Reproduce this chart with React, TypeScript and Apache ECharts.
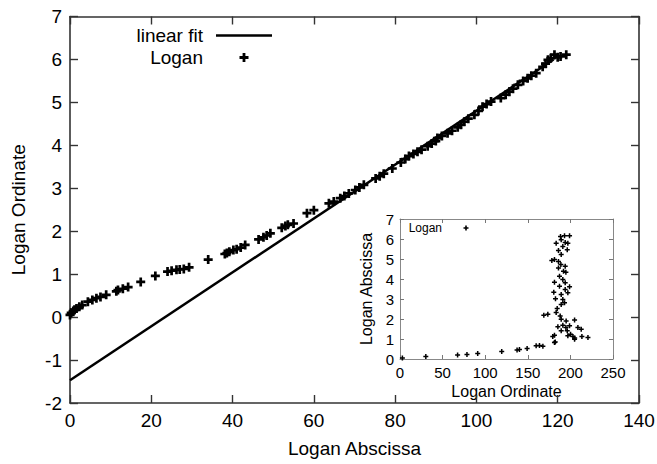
import React, { useEffect, useRef } from "react";
import * as echarts from "echarts";

// Main chart: Logan plot points
const loganX = [0, 0.3, 0.8, 1.1, 1.6, 2.3, 3.0, 4.4, 5.5, 6.5, 7.5, 8.9, 11.4, 11.8, 13.0, 14.3, 17.4, 21.0, 24.0, 25.0, 26.2, 27.0, 28.0, 29.3, 34.0, 38.1, 38.6, 39.2, 40.2, 41.0, 42.0, 43.1, 46.4, 47.6, 48.4, 49.3, 52.1, 53.0, 53.6, 55.0, 58.3, 60.0, 63.7, 64.9, 66.5, 67.5, 68.6, 70.2, 71.2, 72.3, 75.2, 76.2, 77.2, 79.3, 81.4, 82.5, 83.4, 84.5, 85.5, 86.5, 88.0, 89.0, 90.0, 90.4, 91.5, 92.9, 94.0, 95.4, 96.2, 97.0, 98.0, 99.5, 100.5, 101.5, 102.5, 103.6, 106.0, 107.2, 108.1, 109.0, 110.2, 111.5, 112.6, 113.5, 114.7, 116.3, 117.0, 117.6, 118.3, 119.2, 120.0, 120.7, 122.1];
const loganY = [0.05, 0.10, 0.14, 0.17, 0.20, 0.24, 0.28, 0.36, 0.40, 0.44, 0.47, 0.52, 0.60, 0.63, 0.66, 0.70, 0.82, 0.96, 1.06, 1.08, 1.10, 1.11, 1.12, 1.16, 1.34, 1.47, 1.49, 1.52, 1.56, 1.58, 1.62, 1.68, 1.81, 1.86, 1.90, 1.95, 2.08, 2.12, 2.15, 2.18, 2.42, 2.49, 2.65, 2.69, 2.77, 2.82, 2.88, 2.96, 3.02, 3.08, 3.23, 3.28, 3.34, 3.46, 3.60, 3.68, 3.75, 3.80, 3.85, 3.90, 3.98, 4.04, 4.10, 4.17, 4.22, 4.28, 4.34, 4.42, 4.48, 4.55, 4.62, 4.71, 4.80, 4.90, 4.96, 5.02, 5.10, 5.18, 5.25, 5.32, 5.41, 5.50, 5.56, 5.62, 5.68, 5.83, 5.90, 5.99, 6.03, 6.11, 6.05, 6.07, 6.11];

// Linear fit endpoints
const fitX = [0, 119];
const fitY = [-1.47, 6.0];

// Inset: Logan Ordinate vs Logan Abscissa
const insetX = [2.8, 30.3, 67.6, 78.6, 91.2, 119.4, 137.4, 140.2, 149.2, 159.8, 163.7, 167.7, 182.2, 181.3, 179.3, 181.3, 205.0,
  188.4, 193.1, 199.0, 189.2, 193.9, 197.0, 191.1, 196.3, 183.3, 186.0, 189.2, 181.3, 178.2, 186.0, 188.8, 193.9, 186.0, 191.9, 194.7,
  187.2, 191.1, 181.3, 193.9, 187.2, 199.0, 193.9, 180.5, 189.2, 197.0, 182.5, 191.1, 193.1, 189.2, 184.5, 183.3, 188.0, 168.8, 173.5,
  189.2, 195.0, 204.9, 191.1, 194.7, 199.0, 196.3, 208.8, 212.7, 200.2, 203.0, 204.9, 220.6, 213.5, 197.0, 189.2, 185.3];
const insetY = [0.05, 0.13, 0.20, 0.23, 0.27, 0.37, 0.45, 0.47, 0.52, 0.66, 0.68, 0.64, 0.85, 1.19, 1.13, 0.83, 1.05,
  6.13, 6.16, 6.16, 5.96, 5.83, 5.79, 5.63, 5.46, 5.79, 5.43, 5.22, 4.97, 4.93, 4.88, 4.72, 4.64, 4.55, 4.39, 4.34,
  4.14, 3.97, 3.84, 3.81, 3.64, 3.61, 3.48, 3.34, 3.23, 3.31, 3.01, 2.98, 2.81, 2.73, 2.52, 2.32, 2.15, 2.19, 2.24,
  1.99, 1.90, 1.95, 1.69, 1.57, 1.66, 1.41, 1.57, 1.49, 1.24, 1.13, 0.99, 1.08, 1.13, 1.16, 1.41, 1.61];

const mainXTicks = { min: 0, max: 140, interval: 20 };
const mainYTicks = { min: -2, max: 7, interval: 1 };
const insetXTicks = { min: 0, max: 250, interval: 50 };
const insetYTicks = { min: 0, max: 7, interval: 1 };

const PLUS = "path://M3.5,0H6.5V3.5H10V6.5H6.5V10H3.5V6.5H0V3.5H3.5Z";
const LEGEND_LINE = "path://M0,0L0.001,0ZM0,10L0.001,10ZM0,3.75H56V6.25H0Z";
const LEGEND_PLUS = "path://M0,5L0.001,5ZM56,5L55.999,5ZM26.6,0.5H29.4V3.6H32.5V6.4H29.4V9.5H26.6V6.4H23.5V3.6H26.6Z";
const INSET_LEGEND_PLUS = "path://M0,5L0.001,5ZM36,5L35.999,5ZM17.2,2.5H18.8V4.2H20.5V5.8H18.8V7.5H17.2V5.8H15.5V4.2H17.2Z";

const FONT = "Liberation Sans, Arial, Helvetica, sans-serif";

export default function App() {
  const ref = useRef<HTMLDivElement>(null);
  useEffect(() => {
    if (!ref.current) return;
    document.body.style.margin = "0";
    const chart = echarts.init(ref.current, undefined, { renderer: "svg" });
    const mainLine = { show: true, onZero: false, lineStyle: { color: "#333", width: 1.6 } };
    const insetLine = { show: true, onZero: false, lineStyle: { color: "#888", width: 1 } };
    const mainTick = { show: true, inside: true, length: 8, lineStyle: { color: "#333", width: 1.4 } };
    const insetTick = { show: true, inside: true, length: 4, lineStyle: { color: "#777", width: 1 } };
    const mainLabel = { color: "#000", fontSize: 19, fontFamily: FONT, margin: 8 };
    const insetLabel = { color: "#000", fontSize: 15, fontFamily: FONT, margin: 6 };
    const option: any = {
      animation: false,
      backgroundColor: "#fff",
      grid: [
        { left: 70, right: 18, top: 16.5, bottom: 61, show: false, containLabel: false, outerBoundsMode: "none" },
        { left: 400, right: 44, top: 219, bottom: 105, show: true, backgroundColor: "#fff", borderWidth: 0, containLabel: false, outerBoundsMode: "none" },
      ],
      legend: [
        {
          orient: "vertical",
          align: "right",
          right: 385,
          top: 26,
          padding: 0,
          itemWidth: 56,
          itemHeight: 10,
          itemGap: 3,
          selectedMode: false,
          textStyle: { color: "#000", fontSize: 19, fontFamily: FONT, padding: [0, 8, 0, 0], lineHeight: 19 },
          data: [
            { name: "linear fit", icon: LEGEND_LINE },
            { name: "Logan", icon: LEGEND_PLUS },
          ],
        },
        {
          orient: "vertical",
          align: "right",
          right: 173,
          top: 222,
          padding: 0,
          itemWidth: 36,
          itemHeight: 10,
          selectedMode: false,
          textStyle: { color: "#000", fontSize: 12, fontFamily: FONT, padding: [0, 1, 0, 0] },
          data: [{ name: "Logan", icon: INSET_LEGEND_PLUS }],
        },
      ],
      xAxis: [
        {
          type: "value", gridIndex: 0, position: "bottom", ...mainXTicks,
          name: "Logan Abscissa", nameLocation: "middle", nameGap: 36,
          nameTextStyle: { color: "#000", fontSize: 19, fontFamily: FONT },
          axisLine: mainLine, axisTick: mainTick, axisLabel: mainLabel, splitLine: { show: false },
        },
        {
          type: "value", gridIndex: 0, position: "top", ...mainXTicks,
          axisLine: mainLine, axisTick: mainTick, axisLabel: { show: false }, splitLine: { show: false },
        },
        {
          type: "value", gridIndex: 1, position: "bottom", ...insetXTicks,
          name: "Logan Ordinate", nameLocation: "middle", nameGap: 24,
          nameTextStyle: { color: "#000", fontSize: 16, fontFamily: FONT },
          axisLine: insetLine, axisTick: insetTick, axisLabel: insetLabel, splitLine: { show: false },
        },
        {
          type: "value", gridIndex: 1, position: "top", ...insetXTicks,
          axisLine: insetLine, axisTick: insetTick, axisLabel: { show: false }, splitLine: { show: false },
        },
      ],
      yAxis: [
        {
          type: "value", gridIndex: 0, position: "left", ...mainYTicks,
          name: "Logan Ordinate", nameLocation: "middle", nameGap: 42,
          nameTextStyle: { color: "#000", fontSize: 19, fontFamily: FONT },
          axisLine: mainLine, axisTick: mainTick, axisLabel: mainLabel, splitLine: { show: false },
        },
        {
          type: "value", gridIndex: 0, position: "right", ...mainYTicks,
          axisLine: mainLine, axisTick: mainTick, axisLabel: { show: false }, splitLine: { show: false },
        },
        {
          type: "value", gridIndex: 1, position: "left", ...insetYTicks,
          name: "Logan Abscissa", nameLocation: "middle", nameGap: 26,
          nameTextStyle: { color: "#000", fontSize: 16, fontFamily: FONT },
          axisLine: insetLine, axisTick: insetTick, axisLabel: insetLabel, splitLine: { show: false },
        },
        {
          type: "value", gridIndex: 1, position: "right", ...insetYTicks,
          axisLine: insetLine, axisTick: insetTick, axisLabel: { show: false }, splitLine: { show: false },
        },
      ],
      series: [
        {
          name: "linear fit",
          type: "line",
          xAxisIndex: 0,
          yAxisIndex: 0,
          symbol: "none",
          lineStyle: { color: "#000", width: 2.5 },
          itemStyle: { color: "#000" },
          data: fitX.map((x, i) => [x, fitY[i]]),
          z: 3,
        },
        {
          name: "Logan",
          type: "scatter",
          xAxisIndex: 0,
          yAxisIndex: 0,
          symbol: PLUS,
          symbolSize: 9,
          symbolKeepAspect: true,
          itemStyle: { color: "#000", opacity: 1 },
          data: loganX.map((x, i) => [x, loganY[i]]),
          z: 4,
        },
        {
          name: "Logan",
          type: "scatter",
          xAxisIndex: 2,
          yAxisIndex: 2,
          symbol: PLUS,
          symbolSize: 5,
          symbolKeepAspect: true,
          itemStyle: { color: "#000", opacity: 1 },
          data: insetX.map((x, i) => [x, insetY[i]]),
          z: 4,
        },
      ],
    };
    chart.setOption(option);
    return () => chart.dispose();
  }, []);
  return <div ref={ref} style={{ width: 657, height: 464 }} />;
}
